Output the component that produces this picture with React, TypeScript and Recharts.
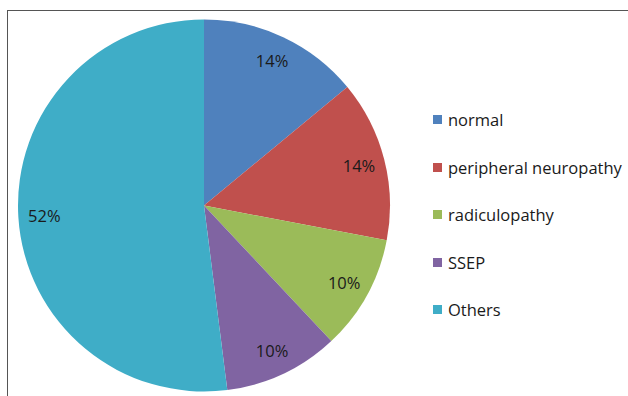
import React from "react";
import { PieChart, Pie, Cell, Legend } from "recharts";

const categories = ["normal", "peripheral neuropathy", "radiculopathy", "SSEP", "Others"];
const shares = [14, 14, 10, 10, 52];
const colors = ["#4F81BD", "#C0504D", "#9BBB59", "#8064A2", "#3FADC7"];

const data = categories.map((name, i) => ({ name, value: shares[i] }));

const RAD = Math.PI / 180;

const renderLabel = (props: any) => {
  const { cx, cy, midAngle, value } = props;
  const r = 160;
  const x = cx + r * Math.cos(-midAngle * RAD);
  const y = cy + r * Math.sin(-midAngle * RAD);
  return (
    <text x={x} y={y} fill="#1a1a1a" fontSize={16.5} textAnchor="middle" dominantBaseline="central">
      {value}%
    </text>
  );
};

const LegendList = () => (
  <div style={{ fontFamily: "Open Sans, sans-serif", fontSize: 16.5, color: "#1a1a1a" }}>
    {categories.map((c, i) => (
      <div key={c} style={{ display: "flex", alignItems: "center", height: 47.5 }}>
        <span style={{ width: 9, height: 9, background: colors[i], marginRight: 6, display: "inline-block" }} />
        <span>{c}</span>
      </div>
    ))}
  </div>
);

export default function App() {
  return (
    <div style={{ position: "absolute", left: 0, top: 0, width: 628, height: 396, overflow: "hidden", background: "#fff" }}>
      <div
        style={{
          position: "absolute",
          left: 7,
          top: 10,
          width: 700,
          height: 500,
          borderLeft: "1.5px solid #555",
          borderTop: "1.5px solid #555",
        }}
      />
      <PieChart
        width={628}
        height={396}
        margin={{ top: 0, right: 0, bottom: 0, left: 0 }}
        style={{ fontFamily: "Open Sans, sans-serif" }}
      >
        <Pie
          data={data}
          dataKey="value"
          nameKey="name"
          cx={204}
          cy={205.5}
          outerRadius={186}
          startAngle={90}
          endAngle={-270}
          stroke="none"
          label={renderLabel}
          labelLine={false}
          isAnimationActive={false}
        >
          {data.map((d, i) => (
            <Cell key={d.name} fill={colors[i]} />
          ))}
        </Pie>
        <Legend
          content={<LegendList />}
          layout="vertical"
          align="right"
          verticalAlign="top"
          wrapperStyle={{ position: "absolute", left: 433, top: 96, width: 200 }}
        />
      </PieChart>
    </div>
  );
}
